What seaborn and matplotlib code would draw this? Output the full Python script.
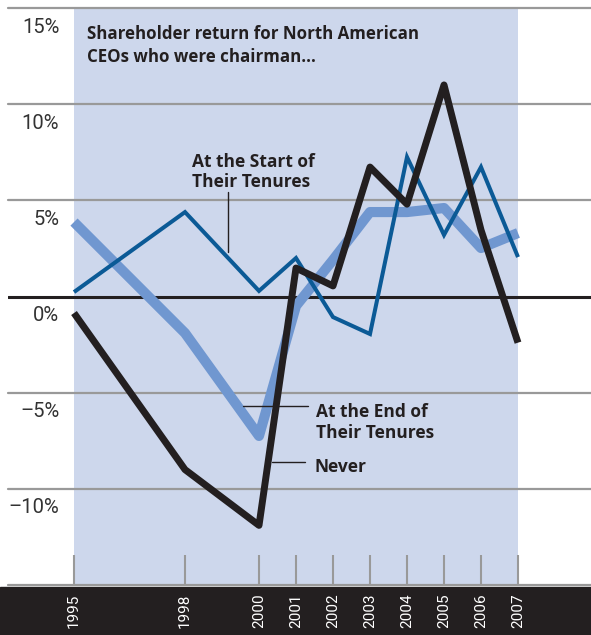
import matplotlib.pyplot as plt
import pandas as pd
import seaborn as sns
from matplotlib.patches import Rectangle

years = [1995, 1998, 2000, 2001, 2002, 2003, 2004, 2005, 2006, 2007]
start_tenure = [0.23, 4.39, 0.29, 2.0, -1.07, -1.95, 7.25, 3.2, 6.73, 2.05]
end_tenure = [3.87, -1.9, -7.25, -0.49, 1.9, 4.39, 4.39, 4.6, 2.52, 3.3]
never = [-0.86, -9.0, -11.9, 1.48, 0.55, 6.73, 4.8, 11.0, 3.46, -2.4]
y_ticks = [15, 10, 5, 0, -5, -10]
y_labels = ["15%", "10%", "5%", "0%", "\u20135%", "\u201310%"]

sns.set_style("white")
plt.rcParams["font.family"] = ["Roboto", "DejaVu Sans"]

dark = "#231f20"
label_font = ["Open Sans", "DejaVu Sans"]
fig = plt.figure(figsize=(5.91, 6.35), dpi=100)
ax = fig.add_axes([8 / 591, 50 / 635, 583 / 591, 577 / 635])
ax.set_xlim(1995 - 66 / 37, 2007 + 73 / 37)
ax.set_ylim(-15, 15)

# shaded period + gridlines
ax.axvspan(1995, 2007, color="#cdd7ec", zorder=0, lw=0)
for v in [15, 10, 5, -5, -10, -15]:
    ax.axhline(v, color="#999999", lw=1.6, zorder=1, clip_on=False)
ax.axhline(0, color=dark, lw=2.2, zorder=2)

df = pd.DataFrame({"year": years, "start": start_tenure,
                   "end": end_tenure, "never": never})
sns.lineplot(data=df, x="year", y="end", ax=ax, color="#7097d0", lw=7.3,
             solid_joinstyle="round", solid_capstyle="butt", zorder=3)
sns.lineplot(data=df, x="year", y="start", ax=ax, color="#0b5a96", lw=2.9,
             solid_joinstyle="miter", solid_capstyle="butt", zorder=4)
sns.lineplot(data=df, x="year", y="never", ax=ax, color=dark, lw=5,
             solid_joinstyle="round", solid_capstyle="butt", zorder=5)

# y labels
for v, lab in zip(y_ticks, y_labels):
    ax.text(1994.6, v - 1.28, lab, ha="right", va="baseline",
            fontsize=14.5, color="#333333")

# x ticks
ax.set_xticks(years)
ax.set_xticklabels([str(y) for y in years], rotation=90)
ax.tick_params(axis="x", direction="in", length=21.6, width=1.5,
               color="#999999", labelcolor="white", labelsize=11, pad=6,
               bottom=True)
ax.tick_params(axis="y", left=False, labelleft=False)
ax.set_xlabel("")
ax.set_ylabel("")
for s in ax.spines.values():
    s.set_visible(False)

fig.add_artist(Rectangle((0, 0), 1, 48 / 635, transform=fig.transFigure,
                         color=dark, zorder=-1))

# annotations
ax.text(1995.35, 12.19, "Shareholder return for North American\nCEOs who were chairman...",
        ha="left", va="baseline", fontsize=12.2, fontweight="bold", color=dark,
        linespacing=1.35, family=label_font)
ax.text(1998.2, 5.69, "At the Start of\nTheir Tenures", ha="left", va="baseline",
        fontsize=12.5, fontweight="bold", color=dark, linespacing=1.15,
        family=label_font)
ax.plot([1999.16, 1999.16], [5.41, 2.29], color=dark, lw=1, zorder=6)
ax.text(2001.54, -7.36, "At the End of\nTheir Tenures", ha="left", va="baseline",
        fontsize=12.5, fontweight="bold", color=dark, linespacing=1.2,
        family=label_font)
ax.plot([1999.57, 2001.32], [-5.67, -5.67], color=dark, lw=1, zorder=6)
ax.text(2001.51, -9.12, "Never", ha="left", va="baseline",
        fontsize=12.5, fontweight="bold", color=dark, family=label_font)
ax.plot([2000.35, 2001.24], [-8.63, -8.63], color=dark, lw=1, zorder=6)

fig.savefig("out.png", dpi=100)
